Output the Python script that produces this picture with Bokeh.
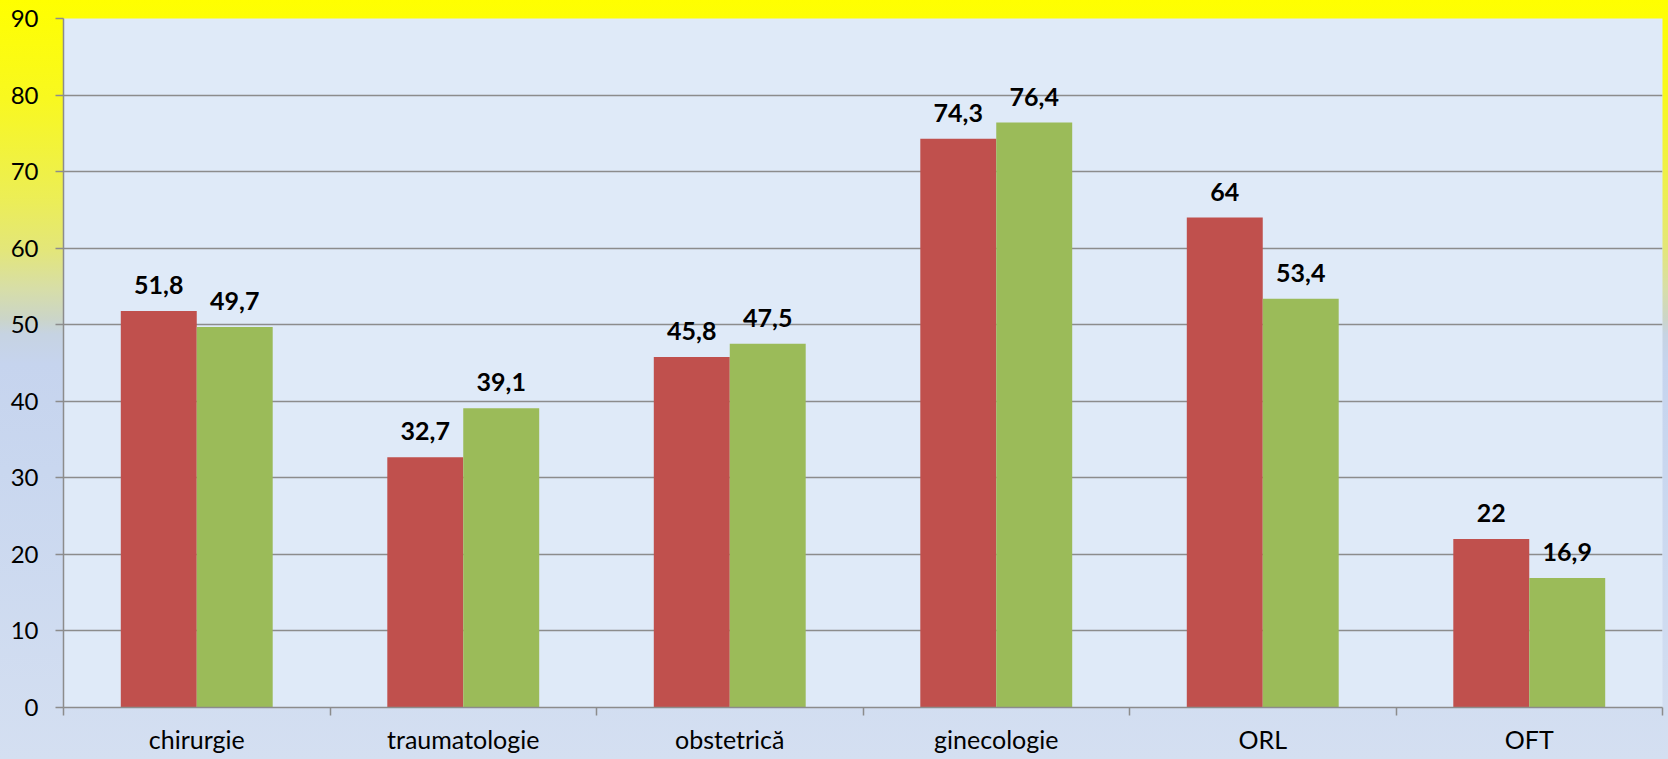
import numpy as np
from bokeh.plotting import figure
from bokeh.models import Range1d, FixedTicker, ColumnDataSource, GlobalInlineStyleSheet
from bokeh.embed import file_html
from bokeh.resources import INLINE
from bokeh.core.properties import value

# ---- data ----
categories = ["chirurgie", "traumatologie", "obstetrică", "ginecologie", "ORL", "OFT"]
series_red = [51.8, 32.7, 45.8, 74.3, 64, 22]
series_green = [49.7, 39.1, 47.5, 76.4, 53.4, 16.9]
y_ticks = [0, 10, 20, 30, 40, 50, 60, 70, 80, 90]

# ---- styling ----
RED = "#c0504d"
GREEN = "#9bbb59"
GRID = "#8c8c8c"
FONT = "Lato"
bar_w = 0.285

def fmt(v):
    return f"{v:g}".replace(".", ",")

centers = np.arange(len(categories)) + 0.5
red_src = ColumnDataSource(dict(x=centers - bar_w / 2, top=series_red,
                                label=[fmt(v) for v in series_red]))
green_src = ColumnDataSource(dict(x=centers + bar_w / 2, top=series_green,
                                  label=[fmt(v) for v in series_green]))

p = figure(width=1668, height=759, output_backend="svg", toolbar_location=None,
           x_range=Range1d(0, len(categories)), y_range=Range1d(0, 90),
           min_border_left=63, min_border_right=6, min_border_top=18, min_border_bottom=52)

p.border_fill_color = None
p.background_fill_color = "#dfeaf8"
p.outline_line_color = None

p.vbar(x="x", top="top", width=bar_w, source=red_src, fill_color=RED, line_color=None)
p.vbar(x="x", top="top", width=bar_w, source=green_src, fill_color=GREEN, line_color=None)

for src in (red_src, green_src):
    p.text(x="x", y="top", text="label", source=src, text_font=value(FONT),
           text_font_style="bold", text_font_size="25px", text_align="center",
           text_baseline="alphabetic", y_offset=-26, text_color="#000000")

# y axis
p.yaxis.ticker = FixedTicker(ticks=y_ticks)
p.yaxis.axis_line_color = GRID
p.yaxis.axis_line_width = 1.5
p.yaxis.major_tick_line_color = GRID
p.yaxis.major_tick_line_width = 1.5
p.yaxis.major_tick_in = 0
p.yaxis.major_tick_out = 8
p.yaxis.minor_tick_line_color = None
p.yaxis.major_label_standoff = 17
p.yaxis.major_label_text_font = FONT
p.yaxis.major_label_text_font_size = "24px"
p.yaxis.major_label_text_color = "#000000"

# x axis: labels at centers, ticks at boundaries (minor)
p.xaxis.ticker = FixedTicker(ticks=list(centers),
                             minor_ticks=list(range(len(categories) + 1)))
p.xaxis.major_label_overrides = {float(c): cat for c, cat in zip(centers, categories)}
p.xaxis.axis_line_color = GRID
p.xaxis.axis_line_width = 1.5
p.xaxis.major_tick_line_color = None
p.xaxis.minor_tick_line_color = GRID
p.xaxis.minor_tick_line_width = 1.5
p.xaxis.minor_tick_in = 0
p.xaxis.minor_tick_out = 8
p.xaxis.major_label_standoff = 8
p.xaxis.major_label_text_font = FONT
p.xaxis.major_label_text_font_size = "25px"
p.xaxis.major_label_text_color = "#000000"

p.xgrid.grid_line_color = None
p.ygrid.ticker = FixedTicker(ticks=y_ticks)
p.ygrid.grid_line_color = GRID
p.ygrid.grid_line_width = 1.5

p.stylesheets = [GlobalInlineStyleSheet(css="""
html { min-height: 100%;
  background: linear-gradient(to bottom, #ffff00 0%, #f8f820 13%, #ecee55 26%,
     #e3e67a 33%, #d7dea7 38%, #cbd5c8 42%, #c6d3e2 44%, #c6d4ee 48%,
     #c9d7ef 62%, #d4dff1 100%) no-repeat; }
body { background: transparent; }
""")]

open("out.html", "w").write(file_html(p, INLINE))
